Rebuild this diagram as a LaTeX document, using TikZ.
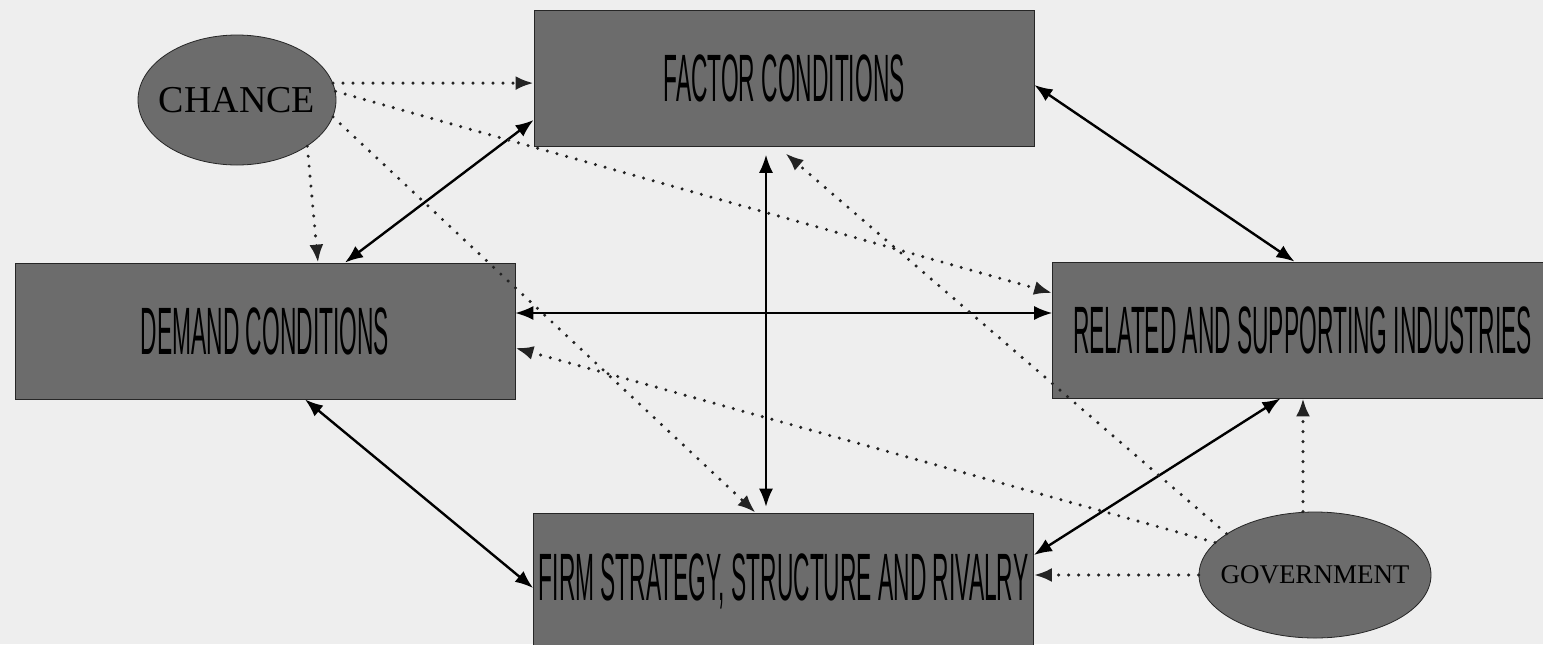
\documentclass[tikz,border=0pt]{standalone}
\usepackage{fontspec}
\setmainfont{Liberation Serif}
\newfontfamily\boxfont[FakeStretch=0.34]{Liberation Sans}
\usepackage{xcolor}
\usepackage{tikz}
\usetikzlibrary{calc}
\usetikzlibrary{arrows.meta}
\usetikzlibrary{positioning}
\usetikzlibrary{shapes.geometric}

\definecolor{paper}{RGB}{238,238,238}
\definecolor{boxgray}{RGB}{108,108,108}
\definecolor{dotgray}{RGB}{35,35,35}

\begin{document}
\begin{tikzpicture}[x=0.5pt,y=-0.5pt]
% 1 = one pixel of the scan, y runs down
    \def\BOXW{250pt} %width of the four boxes
    \def\BOXH{68pt} %
    \def\XCROSS{-9pt} % vertical line, left of the box middles
    \def\YCROSS{9pt} % horizontal line, above the box middles

    \tikzset{
      factorbox/.style={rectangle, draw=black!85, thin, fill=boxgray,
        minimum width=\BOXW, minimum height=\BOXH, inner sep=0pt,
        font=\boxfont\fontsize{33.5pt}{36pt}\selectfont},
      outside/.style={ellipse, draw=black!85, thin, fill=boxgray, inner sep=0pt},
      link/.style={{Latex[length=9pt,width=7pt]}-{Latex[length=9pt,width=7pt]},
        line width=1.2pt},
      influence/.style={-{Latex[length=9pt,width=7pt]}, dotgray,
        line width=1.7pt, line cap=round, dash pattern=on 0pt off 5pt},
    }

    % BACKGROUND
    \path[use as bounding box, fill=paper] (0,0) rectangle (1543,644);

    % THE FOUR DETERMINANTS
    \node[factorbox] (factor) at (784,78.5) {FACTOR CONDITIONS};
    \node[factorbox] (demand) at (265,331) {DEMAND CONDITIONS};
    \node[factorbox] (related) at (1302.5,330) {RELATED AND SUPPORTING INDUSTRIES};
    \node[factorbox] (firm) at (783.5,581) {FIRM STRATEGY, STRUCTURE AND RIVALRY};

    % CHANCE AND GOVERNMENT
    \node[outside, minimum width=99pt, minimum height=65pt,
        font=\fontsize{19pt}{20pt}\selectfont] (chance) at (237,100)
        {\makebox[0pt]{CHANCE}};
    \node[outside, minimum width=116pt, minimum height=63pt,
        font=\fontsize{13.5pt}{14pt}\selectfont] (gov) at (1315,575)
        {\makebox[0pt]{GOVERNMENT}};

    % SOLID LINKS
    \draw[link] ([xshift=40pt]demand.north) -- ([yshift=-20.75pt]factor.west);
    \draw[link] ([yshift=-3.25pt]factor.east) -- ([xshift=-4pt]related.north);
    \draw[link] ([xshift=20pt]demand.south) -- ([yshift=-3.5pt]firm.west);
    \draw[link] ([xshift=-11pt]related.south) -- ([yshift=13pt]firm.east);

    %the cross in the middle
    \coordinate (fs) at ([xshift=\XCROSS]factor.south);
    \coordinate (de) at ([yshift=\YCROSS]demand.east);
    \draw[link, line width=0.8pt, shorten <=4pt, shorten >=3pt] (fs) -- (fs |- firm.north);
    \draw[link, line width=0.8pt] (de) -- (de -| related.west);

    % FROM CHANCE
    \draw[influence] (chance.10) -- (chance.10 -| factor.west);
    \draw[influence] (chance.south east) -- ([xshift=26.5pt]demand.north);
    \draw[influence] (chance.5) -- ([yshift=18.5pt]related.west);
    \draw[influence] (chance.-10) -- ([xshift=-14pt]firm.north);

    % FROM GOVERNMENT
    \coordinate (gu) at ([xshift=-6pt]gov.north);
    \draw[influence] (gov.west) -- (gov.west -| firm.east);
    \draw[influence] (gu) -- (gu |- related.south);
    \draw[influence, shorten >=5pt] (gov.155) -- ([xshift=-3pt]factor.south);
    \draw[influence] (gov.162) -- ([yshift=-8.5pt]demand.east);

\end{tikzpicture}
\end{document}
